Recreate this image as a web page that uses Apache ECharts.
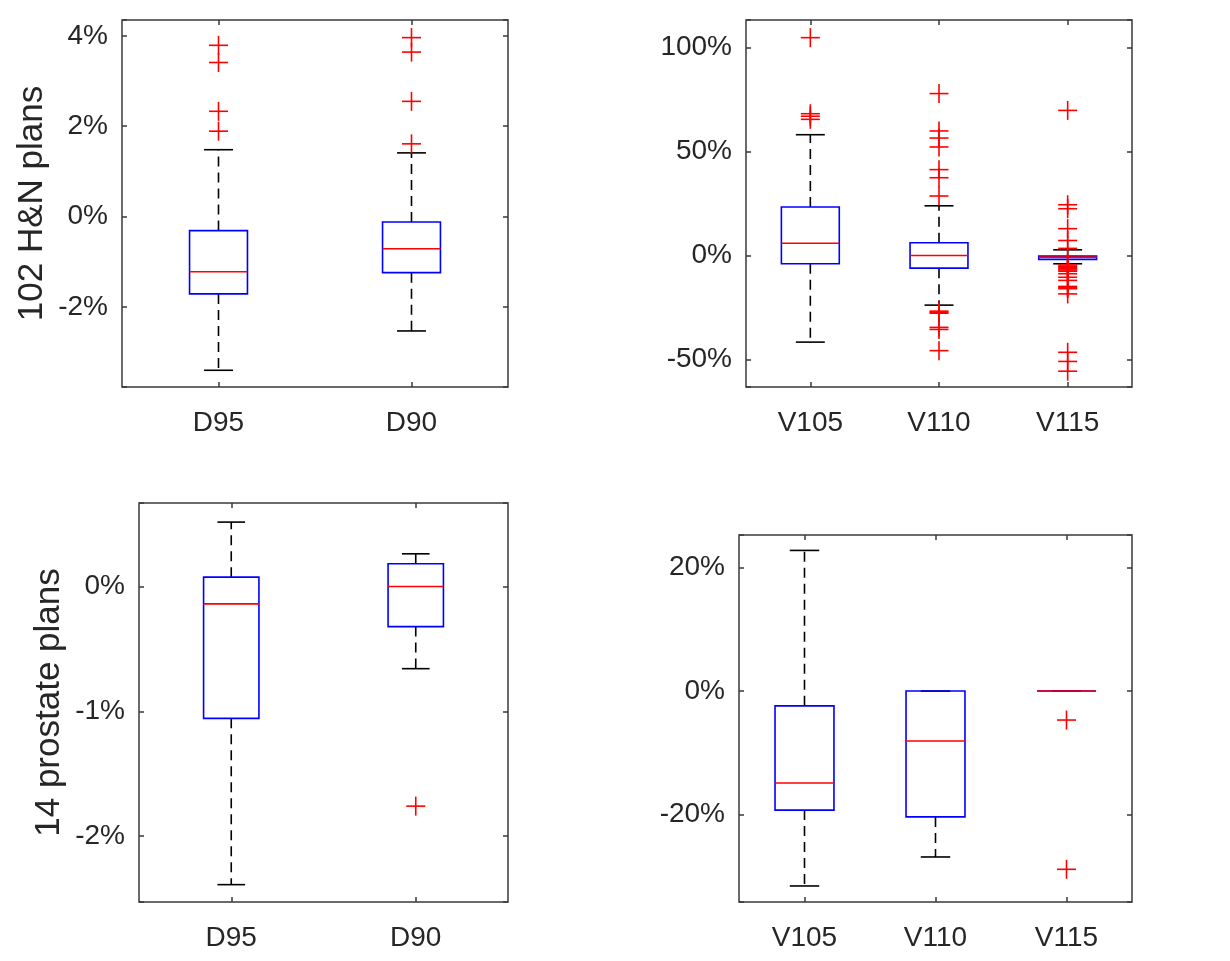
<!DOCTYPE html>
<html>
<head>
<meta charset="utf-8">
<script src="https://cdn.jsdelivr.net/npm/echarts@6/dist/echarts.min.js"></script>
<style>
html,body{margin:0;padding:0;background:#fff;}
#chart{width:1230px;height:961px;}
</style>
</head>
<body>
<div id="chart"></div>
<script>
// ---------- Data ----------
const catsDose = ['D95', 'D90'];
const catsVol = ['V105', 'V110', 'V115'];
const rowNames = ['102 H&N plans', '14 prostate plans'];

// box stats: [min whisker, q1, median, q3, max whisker] in %
const hnDoseStats = [
  [-3.40, -1.71, -1.22, -0.31, 1.48],
  [-2.53, -1.24, -0.71, -0.12, 1.41]
];
const hnDoseOutD95 = [3.79, 3.41, 2.33, 1.89];
const hnDoseOutD90 = [3.96, 3.64, 2.55, 1.61];

const hnVolStats = [
  [-41.7, -4.0, 5.9, 23.3, 58.1],
  [-23.9, -6.1, 0.0, 6.1, 23.9],
  [-4.0, -1.9, -0.8, -0.3, 2.7]
];
const hnVolOutV105 = [104.8, 68.2, 67.0, 65.5];
const hnVolOutV110 = [77.9, 59.9, 56.5, 52.2, 41.3, 37.4, 28.6, -26.8, -27.3, -27.8, -34.6, -35.6, -45.8];
const hnVolOutV115 = [69.8, 24.4, 22.5, 12.9, 7.2, 3.4, -4.6, -5.2, -5.8, -6.4, -7.0, -7.6, -8.8, -10.5, -12.0, -14.9, -15.5, -16.0, -18.5, -46.6, -51.0, -55.7];

const prDoseStats = [
  [-2.388, -1.056, -0.139, 0.075, 0.516],
  [-0.658, -0.321, 0.0, 0.182, 0.262]
];
const prDoseOutD95 = [];
const prDoseOutD90 = [-1.759];

const prVolStats = [
  [-31.6, -19.3, -14.9, -2.4, 22.8],
  [-26.9, -20.4, -8.1, 0.0, 0.0],
  [0.0, 0.0, 0.0, 0.0, 0.0]
];
const prVolOutV105 = [];
const prVolOutV110 = [];
const prVolOutV115 = [-4.7, -28.9];

// axis ranges and tick steps
const hnDoseRange = [-3.77, 4.35];
const hnVolRange = [-63.3, 113.3];
const prDoseRange = [-2.527, 0.669];
const prVolRange = [-34.2, 25.3];
const hnDoseStep = 2, hnVolStep = 50, prDoseStep = 1, prVolStep = 20;

// ---------- Rendering ----------
const FONT = '"Liberation Sans", Arial, sans-serif';
const TXT = '#262626';
const FRAME = '#3a3a3a';

const grids = [
  {left: 122, top: 20, width: 386, height: 367},
  {left: 746, top: 20, width: 386, height: 367},
  {left: 139, top: 503, width: 369, height: 399},
  {left: 739, top: 535, width: 393, height: 367}
];

const panels = [
  {cats: catsDose, stats: hnDoseStats, outs: [hnDoseOutD95, hnDoseOutD90], range: hnDoseRange, step: hnDoseStep, frac: 0.30, name: rowNames[0]},
  {cats: catsVol, stats: hnVolStats, outs: [hnVolOutV105, hnVolOutV110, hnVolOutV115], range: hnVolRange, step: hnVolStep, frac: 0.45, name: ''},
  {cats: catsDose, stats: prDoseStats, outs: [prDoseOutD95, prDoseOutD90], range: prDoseRange, step: prDoseStep, frac: 0.30, name: rowNames[1]},
  {cats: catsVol, stats: prVolStats, outs: [prVolOutV105, prVolOutV110, prVolOutV115], range: prVolRange, step: prVolStep, frac: 0.45, name: ''}
];

function makeBoxRenderer(frac) {
  return function (params, api) {
    const x = api.value(0);
    const pMin = api.coord([x, api.value(1)]);
    const pQ1 = api.coord([x, api.value(2)]);
    const pMed = api.coord([x, api.value(3)]);
    const pQ3 = api.coord([x, api.value(4)]);
    const pMax = api.coord([x, api.value(5)]);
    const band = api.size([1, 0])[0];
    const hw = band * frac / 2;
    const cx = pMed[0];
    const dash = {stroke: '#000', lineWidth: 1.6, lineDash: [10, 6], fill: null};
    const solid = {stroke: '#000', lineWidth: 1.6, fill: null};
    const ch = [];
    if (pQ3[1] - pMax[1] > 0.5) ch.push({type: 'line', shape: {x1: cx, y1: pQ3[1], x2: cx, y2: pMax[1]}, style: dash});
    if (pMin[1] - pQ1[1] > 0.5) ch.push({type: 'line', shape: {x1: cx, y1: pQ1[1], x2: cx, y2: pMin[1]}, style: dash});
    ch.push({type: 'line', shape: {x1: cx - hw / 2, y1: pMax[1], x2: cx + hw / 2, y2: pMax[1]}, style: solid});
    ch.push({type: 'line', shape: {x1: cx - hw / 2, y1: pMin[1], x2: cx + hw / 2, y2: pMin[1]}, style: solid});
    ch.push({type: 'rect', shape: {x: cx - hw, y: pQ3[1], width: 2 * hw, height: pQ1[1] - pQ3[1]},
      style: {fill: null, stroke: '#0000ff', lineWidth: 1.6}});
    ch.push({type: 'line', shape: {x1: cx - hw, y1: pMed[1], x2: cx + hw, y2: pMed[1]},
      style: {stroke: '#ff0000', lineWidth: 1.6, fill: null}});
    return {type: 'group', children: ch};
  };
}

function renderPlus(params, api) {
  const p = api.coord([api.value(0), api.value(1)]);
  const s = 9.5;
  const st = {stroke: '#ff0000', lineWidth: 1.6, fill: null};
  return {type: 'group', children: [
    {type: 'line', shape: {x1: p[0] - s, y1: p[1], x2: p[0] + s, y2: p[1]}, style: st},
    {type: 'line', shape: {x1: p[0], y1: p[1] - s, x2: p[0], y2: p[1] + s}, style: st}
  ]};
}

const option = {
  backgroundColor: '#fff',
  animation: false,
  grid: grids.map(g => Object.assign({show: true, borderColor: FRAME, borderWidth: 1.5, backgroundColor: '#fff', containLabel: false}, g)),
  xAxis: [],
  yAxis: [],
  series: []
};

panels.forEach((p, i) => {
  const xb = option.xAxis.length;
  option.xAxis.push({
    type: 'category', gridIndex: i, data: p.cats, position: 'bottom', boundaryGap: true,
    axisLine: {show: false, onZero: false},
    axisTick: {show: true, inside: true, alignWithLabel: true, length: 5, lineStyle: {color: FRAME, width: 1.5}},
    axisLabel: {color: TXT, fontFamily: FONT, fontSize: 28, margin: 22},
    splitLine: {show: false}
  });
  option.xAxis.push({
    type: 'category', gridIndex: i, data: p.cats, position: 'top', boundaryGap: true,
    axisLine: {show: false, onZero: false},
    axisTick: {show: true, inside: true, alignWithLabel: true, length: 5, lineStyle: {color: FRAME, width: 1.5}},
    axisLabel: {show: false}, splitLine: {show: false}
  });
  const yb = option.yAxis.length;
  const step = p.step;
  const common = {
    type: 'value', gridIndex: i, min: p.range[0], max: p.range[1],
    splitNumber: 4, minInterval: step, maxInterval: step,
    splitLine: {show: false}, axisLine: {show: false, onZero: false}
  };
  option.yAxis.push(Object.assign({}, common, {
    position: 'left',
    name: p.name, nameLocation: 'middle', nameGap: 72, nameRotate: 90,
    nameTextStyle: {color: TXT, fontFamily: FONT, fontSize: 35},
    axisTick: {show: true, inside: true, length: 5, lineStyle: {color: FRAME, width: 1.5}},
    axisLabel: {color: TXT, fontFamily: FONT, fontSize: 28, margin: 14,
      formatter: v => {
        const r = v / step;
        return Math.abs(r - Math.round(r)) < 1e-6 ? (Math.round(r) * step) + '%' : '';
      }}
  }));
  option.yAxis.push(Object.assign({}, common, {
    position: 'right',
    axisTick: {show: true, inside: true, length: 5, lineStyle: {color: FRAME, width: 1.5}},
    axisLabel: {show: false}
  }));
  option.series.push({
    type: 'custom', xAxisIndex: xb, yAxisIndex: yb,
    renderItem: makeBoxRenderer(p.frac),
    encode: {x: 0, y: [1, 2, 3, 4, 5]},
    data: p.stats.map((s, k) => [k].concat(s)),
    z: 3
  });
  const outData = [];
  p.outs.forEach((arr, k) => arr.forEach(v => outData.push([k, v])));
  option.series.push({
    type: 'custom', xAxisIndex: xb, yAxisIndex: yb,
    renderItem: renderPlus,
    encode: {x: 0, y: 1},
    data: outData,
    z: 4
  });
});

const chart = echarts.init(document.getElementById('chart'), null, {renderer: 'canvas'});
chart.setOption(option);
</script>
</body>
</html>
